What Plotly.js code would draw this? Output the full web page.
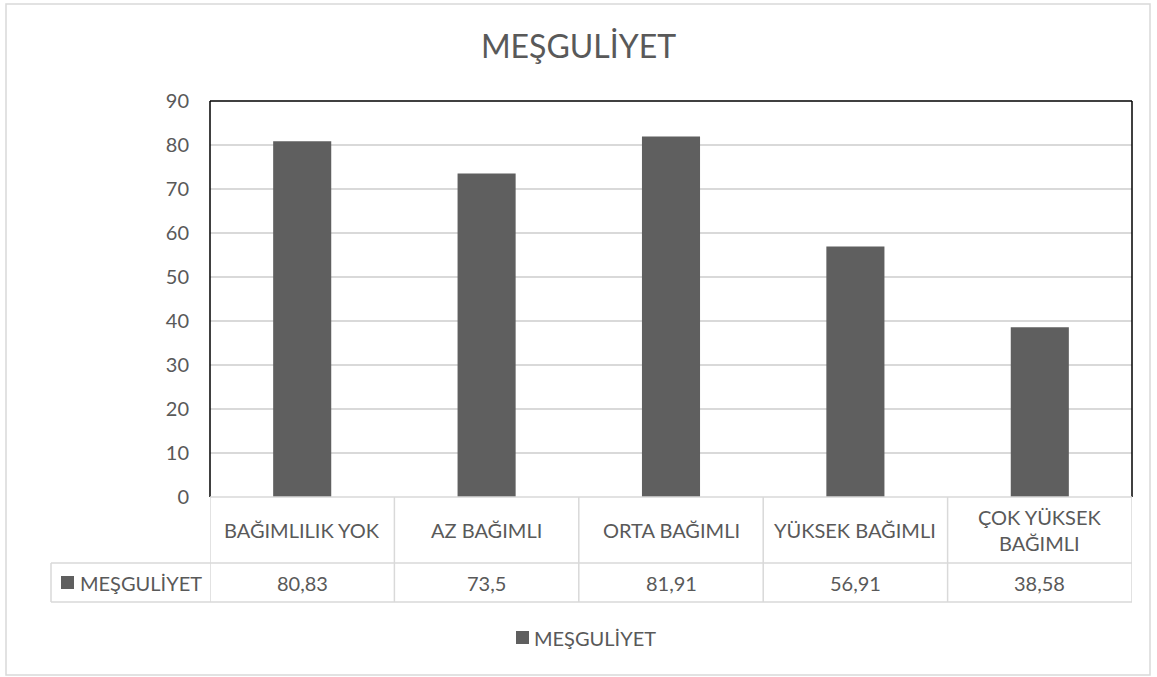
<!DOCTYPE html>
<html><head><meta charset="utf-8">
<script src="https://cdn.plot.ly/plotly-3.0.1.min.js"></script>
<style>html,body{margin:0;padding:0;background:#fff}#chart{width:1157px;height:677px}</style>
</head><body><div id="chart"></div>
<script>
const categories = ["BAĞIMLILIK YOK", "AZ BAĞIMLI", "ORTA BAĞIMLI", "YÜKSEK BAĞIMLI", "ÇOK YÜKSEK<br>BAĞIMLI"];
const values = [80.83, 73.5, 81.91, 56.91, 38.58];
const valueLabels = ["80,83", "73,5", "81,91", "56,91", "38,58"];
const seriesName = "MEŞGULİYET";
const yTicks = [0, 10, 20, 30, 40, 50, 60, 70, 80, 90];

const FONT = "Lato, 'Open Sans', sans-serif";
const TXT = "#595959";
const GRID = "#d9d9d9";
const BAR = "#5f5f5f";
const FS = 20;

// pixel -> paper helpers (plot area: x 210..1132, y 101..497)
const px = v => (v - 210) / 922;
const py = v => (497 - v) / 396;

const idx = categories.map((_, i) => i);
const shapes = [];
const annotations = [];

// plot border (left, top, right) black
shapes.push({type:"line", xref:"paper", yref:"paper", x0:0, x1:0, y0:0, y1:1, line:{color:"#000", width:1.5}});
shapes.push({type:"line", xref:"paper", yref:"paper", x0:0, x1:1, y0:1, y1:1, line:{color:"#000", width:1.5}});
shapes.push({type:"line", xref:"paper", yref:"paper", x0:1, x1:1, y0:0, y1:1, line:{color:"#000", width:1.5}});

// data table
const r1 = py(563), r2 = py(602), labelLeft = px(51);
shapes.push({type:"line", xref:"paper", yref:"paper", x0:0, x1:1, y0:0, y1:0, line:{color:GRID, width:1.5}});
shapes.push({type:"line", xref:"paper", yref:"paper", x0:labelLeft, x1:1, y0:r1, y1:r1, line:{color:GRID, width:1.5}});
shapes.push({type:"line", xref:"paper", yref:"paper", x0:labelLeft, x1:1, y0:r2, y1:r2, line:{color:GRID, width:1.5}});
shapes.push({type:"line", xref:"paper", yref:"paper", x0:labelLeft, x1:labelLeft, y0:r1, y1:r2, line:{color:GRID, width:1.5}});
for (let i = 0; i <= categories.length; i++) {
  shapes.push({type:"line", xref:"x", yref:"paper", x0:i-0.5, x1:i-0.5, y0:0, y1:r2, line:{color:GRID, width:1.5}});
}
// legend key square + series name in table row label
shapes.push({type:"rect", xref:"paper", yref:"paper", x0:px(61), x1:px(74), y0:py(576), y1:py(589), fillcolor:BAR, line:{width:0}});
annotations.push({xref:"paper", yref:"paper", x:px(78), y:py(583), xanchor:"left", yanchor:"middle", text:seriesName, showarrow:false, font:{family:FONT, size:FS, color:TXT}});

idx.forEach(i => {
  annotations.push({xref:"x", yref:"paper", x:i, y:py(530), xanchor:"center", yanchor:"middle", text:categories[i], showarrow:false, font:{family:FONT, size:FS, color:TXT}});
  annotations.push({xref:"x", yref:"paper", x:i, y:py(583), xanchor:"center", yanchor:"middle", text:valueLabels[i], showarrow:false, font:{family:FONT, size:FS, color:TXT}});
});

// bottom legend (key + label)
shapes.push({type:"rect", xref:"paper", yref:"paper", x0:px(516), x1:px(529), y0:py(631), y1:py(644), fillcolor:BAR, line:{width:0}});
annotations.push({xref:"paper", yref:"paper", x:px(532), y:py(638), xanchor:"left", yanchor:"middle", text:seriesName, showarrow:false, font:{family:FONT, size:FS, color:TXT}});

// outer chart border
shapes.push({type:"rect", xref:"paper", yref:"paper", x0:px(6), x1:px(1150), y0:py(675), y1:py(4), line:{color:GRID, width:1.5}, fillcolor:"rgba(0,0,0,0)"});

const trace = {
  type:"bar", x:idx, y:values, name:seriesName,
  marker:{color:BAR}, hoverinfo:"skip"
};

const layout = {
  width:1157, height:677,
  margin:{l:210, r:25, t:101, b:180},
  paper_bgcolor:"#fff", plot_bgcolor:"#fff",
  font:{family:FONT, color:TXT},
  title:{text:seriesName, x:0.5, xref:"container", xanchor:"center", y:1 - 47/677, yref:"container", yanchor:"middle", font:{family:FONT, size:32, color:TXT}},
  bargap:0.685,
  showlegend:false,
  xaxis:{range:[-0.5, 4.5], showticklabels:false, showgrid:false, zeroline:false, showline:false, ticks:"", fixedrange:true},
  yaxis:{range:[0, 90], tickvals:yTicks, showgrid:true, gridcolor:GRID, gridwidth:1.5, zeroline:false, showline:false, ticks:"", ticklabelstandoff:20, tickfont:{family:FONT, size:FS, color:TXT}, fixedrange:true},
  shapes:shapes, annotations:annotations
};

Plotly.newPlot("chart", [trace], layout, {displayModeBar:false, staticPlot:true});
</script>
</body></html>
